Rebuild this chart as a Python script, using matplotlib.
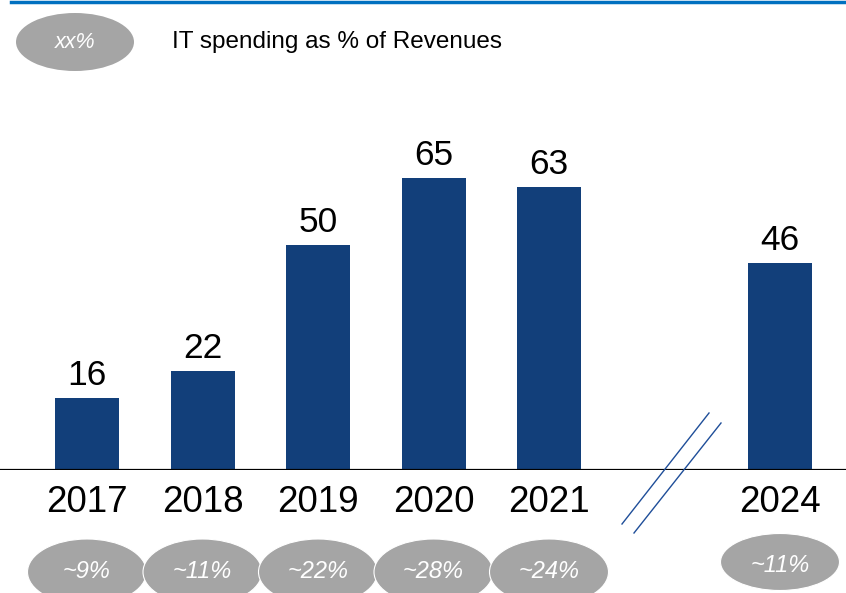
import matplotlib
matplotlib.use("Agg")
import matplotlib.pyplot as plt
from matplotlib.patches import Ellipse
from matplotlib.transforms import blended_transform_factory

years = ["2017", "2018", "2019", "2020", "2021", "2024"]
values = [16, 22, 50, 65, 63, 46]
shares = ["~9%", "~11%", "~22%", "~28%", "~24%", "~11%"]
positions = [0, 1, 2, 3, 4, 6]

plt.rcParams['font.family'] = ['Liberation Sans', 'DejaVu Sans']

W, H = 846, 593
fig = plt.figure(figsize=(W / 100, H / 100), dpi=100)

bar_color = "#123F7A"
grey = "#A5A5A5"

# axes mapping: baseline at pixel 470 from top, slot spacing 115.5 px, first center at 87 px
spacing = 115.5
x0 = 87
base_px = 470
top_px = 100
px_per_unit = 4.5
ax = fig.add_axes([0, (H - base_px) / H, 1, (base_px - top_px) / H])
ax.set_xlim(-x0 / spacing, (W - x0) / spacing)
ax.set_ylim(0, (base_px - top_px) / px_per_unit)
ax.axis("off")

ax.bar(positions, values, width=64 / spacing, color=bar_color, zorder=2)
ax.axhline(0, color="black", lw=1.6, zorder=3)

for p, v in zip(positions, values):
    ax.annotate(str(v), (p, v), xytext=(0, 4), textcoords="offset points",
                ha="center", va="bottom", fontsize=25.5, color="black")

bt = blended_transform_factory(ax.transData, fig.transFigure)
for p, y, s in zip(positions, years, shares):
    ax.text(p, 1 - 503 / H, y, transform=bt, ha="center", va="center",
            fontsize=26.5, color="black", clip_on=False)
    if p != 6:
        cy, eh, ty = 572, 66, 572
    else:
        cy, eh, ty = 562, 57, 566
    e = Ellipse((p, 1 - cy / H), width=119 / spacing, height=eh / H,
                transform=bt, facecolor=grey, edgecolor="white", lw=0.8,
                clip_on=False, zorder=1)
    ax.add_patch(e)
    ax.text(p, 1 - ty / H, s, transform=bt, ha="center", va="center",
            fontsize=17, color="white", style="italic",
            clip_on=False, zorder=4)

# axis break marks (figure pixels)
def fpx(x, y):
    return x / W, 1 - y / H

for (xa, ya), (xb, yb) in [((622, 524), (709, 413)), ((634, 533), (721, 423))]:
    a = fpx(xa, ya); b = fpx(xb, yb)
    fig.add_artist(plt.Line2D([a[0], b[0]], [a[1], b[1]], color="#1F4E99", lw=1.0))

# top blue rule
fig.add_artist(plt.Line2D([11 / W, 1], [1 - 1.5 / H, 1 - 1.5 / H], color="#0070C0", lw=2.5))

# legend ellipse
cx, cy = fpx(75, 42)
fig.add_artist(Ellipse((cx, cy), width=118 / W, height=58 / H, transform=fig.transFigure,
                       facecolor=grey, edgecolor="none"))
fig.text(cx, cy, "xx%", ha="center", va="center", fontsize=15.5, color="white",
         style="italic")
fig.text(172 / W, cy, "IT spending as % of Revenues", ha="left", va="center",
         fontsize=17.5, color="black")

fig.savefig("out.png", dpi=100)
